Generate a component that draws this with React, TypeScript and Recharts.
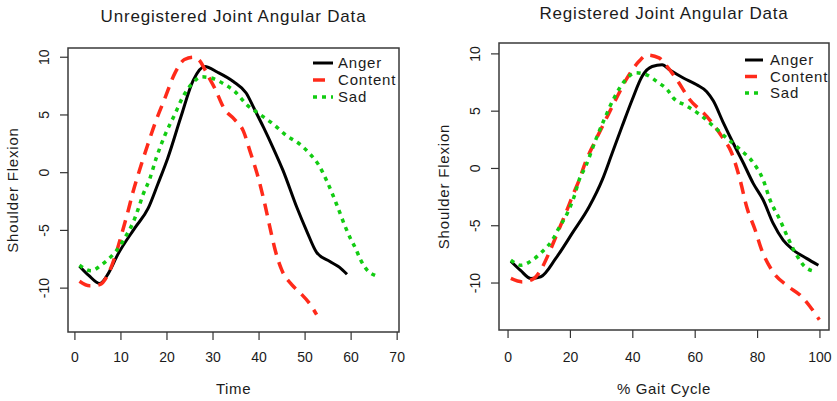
import React from "react";
import { LineChart, Line, XAxis, YAxis, ReferenceArea, Legend } from "recharts";

const FONT = '"Liberation Sans", Arial, Helvetica, sans-serif';
const INK = "#1b1b1b";
const RED = "#ff2a1a";
const GREEN = "#12cc12";

// [time, shoulder flexion]
const angerUnregistered = [
  [1, -8.1], [3, -8.9], [5.4, -9.6], [7.3, -8.7], [9.3, -7.1], [13, -4.8],
  [15.9, -3.1], [18, -1.0], [20.2, 1.3], [23, 4.8], [25.7, 8.0], [28.2, 9.2],
  [31, 8.7], [34.4, 7.9], [37.2, 6.9], [39, 5.5], [41, 3.9], [43, 2.2],
  [45.2, 0.2], [48.2, -3.0], [50.4, -5.1], [52.5, -6.9], [55.4, -7.7],
  [57.5, -8.2], [59.1, -8.8],
];
const contentUnregistered = [
  [1, -9.4], [3.2, -9.8], [5.4, -9.7], [7.2, -8.8], [8.6, -7.4], [10.1, -5.4],
  [11.5, -3.4], [12.6, -1.7], [14.1, 0.3], [15.8, 2.4], [17.7, 4.6], [19.5, 6.4],
  [21.7, 8.6], [23.8, 9.8], [25.7, 10.0], [27.1, 9.7], [28.9, 8.4], [30.4, 7.3],
  [32.5, 5.5], [34.7, 4.6], [36.6, 3.6], [38, 1.9], [39.8, -0.4], [41.3, -2.8],
  [42.4, -4.8], [43.5, -6.7], [44.9, -8.4], [47.1, -9.7], [48.9, -10.4],
  [51.1, -11.4], [52.5, -12.3],
];
const sadUnregistered = [
  [1, -8.0], [3.5, -8.5], [5.7, -8.0], [7.9, -7.25], [9.7, -6.4], [11.2, -5.4],
  [12.6, -4.35], [13.7, -3.2], [14.8, -1.9], [16.2, -0.6], [17.7, 1.3],
  [19.5, 3.2], [21.7, 5.05], [23.5, 6.6], [25.3, 7.65], [27.5, 8.3], [29.6, 8.2],
  [32.5, 7.65], [34.7, 7.05], [37.3, 5.9], [40.2, 5.05], [43.1, 4.2], [46, 3.2],
  [48.9, 2.45], [51.1, 1.6], [52.9, 0.7], [54.7, -0.7], [56.9, -2.8],
  [58.7, -4.65], [59.8, -5.65], [60.9, -6.5], [62, -7.5], [63.4, -8.4], [65.2, -8.9],
];

// [% gait cycle, shoulder flexion]
const angerRegistered = [
  [0.9, -8.1], [4, -8.9], [7.3, -9.6], [10.5, -9.45], [15.3, -7.85], [20.6, -5.65],
  [26, -3.35], [30.2, -1.0], [33.4, 1.35], [36.6, 3.7], [39.8, 6.0], [43, 8.05],
  [46.2, 8.9], [49.4, 9.05], [51.9, 8.6], [56.2, 7.9], [60.5, 7.3], [63.7, 6.7],
  [65.8, 5.9], [69, 4.0], [72.2, 2.2], [75.4, 0.5], [78.6, -1.3], [81.8, -2.75],
  [85, -4.8], [88.2, -6.25], [91.4, -7.1], [95.7, -7.85], [99.5, -8.45],
];
const contentRegistered = [
  [0.9, -9.6], [4.6, -9.9], [8.3, -9.6], [10.5, -8.85], [13.1, -7.4], [15.8, -5.65],
  [18.5, -3.9], [20.6, -2.45], [22.8, -1.0], [24.9, 0.6], [27.6, 2.2], [31.3, 4.25],
  [34.5, 6.0], [38.2, 7.9], [42, 9.35], [44.6, 9.9], [48.4, 9.65], [50.5, 9.05],
  [54.1, 7.75], [58.3, 6.0], [63.7, 4.55], [68.5, 2.8], [71.7, 1.35], [74.4, -1.0],
  [76.5, -3.35], [79.2, -5.35], [81.3, -7.1], [84.5, -8.85], [89.8, -10.3],
  [93.6, -11.05], [96.8, -12.05], [99.8, -13.2],
];
const sadRegistered = [
  [0.9, -8.0], [4.1, -8.45], [7.8, -8.0], [11, -7.25], [14.2, -6.25], [16.3, -5.2],
  [19, -3.9], [21.2, -2.45], [22.8, -1.0], [24.9, 0.2], [28.1, 2.5], [30.8, 4.25],
  [34, 6.15], [37.7, 7.75], [40.9, 8.35], [44.1, 8.2], [48.4, 7.45], [51, 6.9],
  [53, 6.15], [57.3, 5.45], [61.5, 4.7], [65.8, 3.7], [70.1, 2.65], [74.4, 1.65],
  [78.6, 0.5], [81.8, -1.0], [84, -2.75], [87.2, -4.5], [89.8, -6.1], [92.5, -7.55],
  [95.7, -8.7], [98.9, -9.0],
];

const emotions = ["Anger", "Content", "Sad"];
const timeTicks = [0, 10, 20, 30, 40, 50, 60, 70];
const gaitTicks = [0, 20, 40, 60, 80, 100];
const flexionTicks = [-10, -5, 0, 5, 10];

const lineStyle: Record<string, { stroke: string; dash?: string; width: number }> = {
  Anger: { stroke: "#000", width: 3 },
  Content: { stroke: RED, dash: "12 8", width: 3.5 },
  Sad: { stroke: GREEN, dash: "4 5", width: 3.5 },
};

const toPoints = (pts: number[][]) => pts.map(([x, y]) => ({ x, y }));

const YTick = ({ x, y, payload }: any) => (
  <text
    x={x - 9}
    y={y}
    transform={`rotate(-90, ${x - 9}, ${y})`}
    textAnchor="middle"
    fill={INK}
    fontSize={14}
    fontFamily={FONT}
  >
    {payload.value}
  </text>
);

function LegendBox({ gap, len }: { gap: number; len: number }) {
  return (
    <svg width={120} height={58}>
      {emotions.map((name, i) => {
        const s = lineStyle[name];
        const cy = 10 + i * gap;
        return (
          <g key={name}>
            <line x1={3} x2={3 + len} y1={cy} y2={cy} stroke={s.stroke}
              strokeWidth={s.width} strokeDasharray={s.dash} />
            <text x={28} y={cy + 5} fontSize={15} letterSpacing={0.8}
              fontFamily={FONT} fill={INK}>{name}</text>
          </g>
        );
      })}
    </svg>
  );
}

type PanelProps = {
  left: number;
  width: number;
  top: number;
  right: number;
  yAxisWidth: number;
  xAxisHeight: number;
  xDomain: [number, number];
  yDomain: [number, number];
  xTicks: number[];
  tickGap: number;
  title: string;
  titleTop: number;
  xLabel: string;
  xLabelY: number;
  yLabelX: number;
  series: number[][][];
  legend: { left: number; top: number; gap: number; len: number };
};

function Panel(p: PanelProps) {
  const plotWidth = p.width - p.yAxisWidth - p.right;
  return (
    <div style={{ position: "absolute", left: p.left, top: 0, width: p.width, height: 401 }}>
      <div
        style={{
          position: "absolute", left: p.yAxisWidth, width: plotWidth, top: p.titleTop,
          textAlign: "center", fontFamily: FONT, fontSize: 17, letterSpacing: 0.8,
          color: INK, lineHeight: "20px",
        }}
      >
        {p.title}
      </div>
      <LineChart width={p.width} height={401}
        margin={{ top: p.top, right: p.right, bottom: 0, left: 0 }}>
        <XAxis
          dataKey="x" type="number" domain={p.xDomain} allowDataOverflow
          ticks={p.xTicks} interval={0} axisLine={false}
          tickLine={{ stroke: "#333", strokeWidth: 1.2 }} tickSize={8} tickMargin={p.tickGap}
          tick={{ fill: INK, fontSize: 14, fontFamily: FONT }}
          height={p.xAxisHeight}
          label={(lp: any) => {
            const vb = lp.viewBox;
            return (
              <text x={vb.x + vb.width / 2} y={vb.y + p.xLabelY} textAnchor="middle"
                fontSize={15} letterSpacing={0.6} fontFamily={FONT} fill={INK}>{p.xLabel}</text>
            );
          }}
        />
        <YAxis
          type="number" domain={p.yDomain} allowDataOverflow ticks={flexionTicks}
          interval={0} axisLine={false} width={p.yAxisWidth}
          tickLine={{ stroke: "#333", strokeWidth: 1.2 }} tickSize={8}
          tick={<YTick />}
          label={(lp: any) => {
            const vb = lp.viewBox;
            const cx = vb.x + p.yLabelX;
            const cy = vb.y + vb.height / 2;
            return (
              <text x={cx} y={cy} transform={`rotate(-90, ${cx}, ${cy})`} textAnchor="middle"
                fontSize={15} letterSpacing={0.8} fontFamily={FONT} fill={INK}>Shoulder Flexion</text>
            );
          }}
        />
        <ReferenceArea x1={p.xDomain[0]} x2={p.xDomain[1]} y1={p.yDomain[0]} y2={p.yDomain[1]}
          stroke="#3a3a3a" strokeWidth={1.5} fill="none" fillOpacity={0} ifOverflow="visible" />
        {emotions.map((name, i) => {
          const s = lineStyle[name];
          return (
            <Line key={name} name={name} data={toPoints(p.series[i])} dataKey="y" type="monotone"
              stroke={s.stroke} strokeWidth={s.width} strokeDasharray={s.dash}
              dot={false} activeDot={false} isAnimationActive={false} />
          );
        })}
        <Legend layout="vertical" align="center" verticalAlign="middle"
          wrapperStyle={{ left: p.legend.left, top: p.legend.top, width: 120, height: 58 }}
          content={() => <LegendBox gap={p.legend.gap} len={p.legend.len} />} />
      </LineChart>
    </div>
  );
}

export default function App() {
  return (
    <div style={{ position: "absolute", left: 0, top: 0, width: 837, height: 401, background: "#fff" }}>
      <Panel
        left={0} width={420} top={48} right={21} yAxisWidth={68} xAxisHeight={69}
        xDomain={[-1.5, 70.4]} yDomain={[-13.8, 10.8]} xTicks={timeTicks} tickGap={12}
        title="Unregistered Joint Angular Data" titleTop={7}
        xLabel="Time" xLabelY={62} yLabelX={18}
        series={[angerUnregistered, contentUnregistered, sadUnregistered]}
        legend={{ left: 310, top: 53, gap: 17, len: 20 }}
      />
      <Panel
        left={420} width={417} top={43} right={8} yAxisWidth={79} xAxisHeight={71}
        xDomain={[-2.9, 102.9]} yDomain={[-14.1, 10.95]} xTicks={gaitTicks} tickGap={14}
        title="Registered Joint Angular Data" titleTop={4}
        xLabel="% Gait Cycle" xLabelY={64} yLabelX={29}
        series={[angerRegistered, contentRegistered, sadRegistered]}
        legend={{ left: 322, top: 50, gap: 16.5, len: 18 }}
      />
    </div>
  );
}
